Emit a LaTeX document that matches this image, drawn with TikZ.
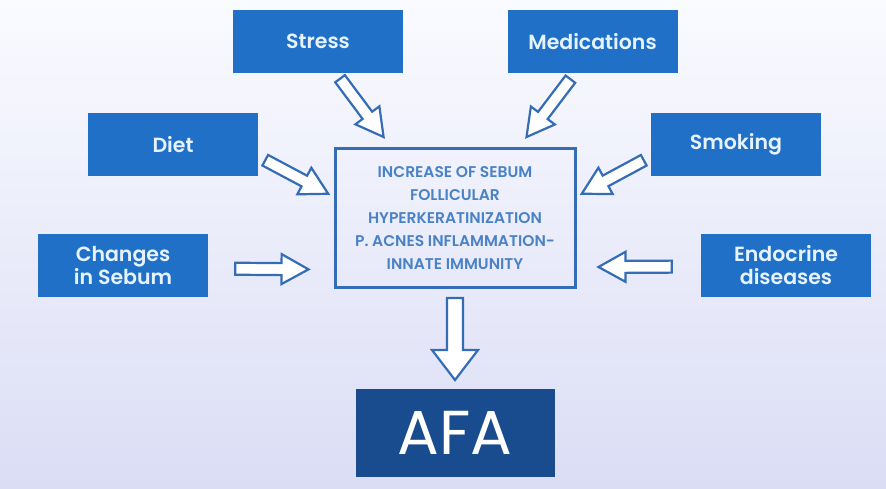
\documentclass[tikz,border=0pt]{standalone}
\usepackage{fontspec}
\setmainfont{Poppins}[BoldFont={Poppins SemiBold}]
\usetikzlibrary{positioning,calc}

\definecolor{boxblue}{RGB}{31,112,198}
\definecolor{navy}{RGB}{24,76,142}
\definecolor{lineblue}{RGB}{52,108,182}
\definecolor{capsblue}{RGB}{74,130,198}
\definecolor{paletop}{RGB}{250,251,255}
\definecolor{palebottom}{RGB}{219,221,245}
\definecolor{softwhite}{RGB}{230,243,255}

\begin{document}
\begin{tikzpicture}[%
		x=1pt,
		y=1pt,
		tail gap/.store in=\tailgap,
		tip gap/.store in=\tipgap,
		shaft half/.store in=\shaftw,
		head half/.store in=\headw,
		head long/.store in=\headl,
		tail gap=8pt, tip gap=8pt, shaft half=6pt, head half=15pt, head long=27pt,
		factor/.style={%
			fill=boxblue,
			text=softwhite,
			minimum width=170pt,
			minimum height=63pt,
			align=center,
			font=\fontsize{20.5pt}{23pt}\selectfont\bfseries
		},
		core/.style={%
			draw=lineblue,
			line width=3pt,
			minimum width=240pt,
			minimum height=139pt,
			align=center,
			text=capsblue,
			font=\fontsize{15.5pt}{23pt}\selectfont\bfseries
		},
		outcome/.style={%
			fill=navy,
			text=white,
			minimum width=199pt,
			minimum height=88pt,
			font=\fontsize{62pt}{64pt}\selectfont
		},
		fat/.style={%
			draw=lineblue,
			fill=white,
			line width=2.2pt,
			line join=miter,
			to path={%
				let \p1=($(\tikztostart)!\tailgap!(\tikztotarget)$),
				    \p2=($(\tikztotarget)!\tipgap!(\tikztostart)$),
				    \n1={atan2(\y2-\y1,\x2-\x1)},
				    \n2={veclen(\x2-\x1,\y2-\y1)} in
				($(\p1)+({\n1+90}:\shaftw)$) -- ++({\n1}:{(\n2)*1pt-\headl})
				-- ++({\n1+90}:{\headw-\shaftw}) -- (\p2)
				-- ($(\p2)+({\n1+180}:\headl)+({\n1-90}:\headw)$)
				-- ++({\n1+90}:{\headw-\shaftw})
				-- ($(\p1)+({\n1-90}:\shaftw)$) -- cycle
			}
		}
		]
		% background
		\shade[top color=paletop, bottom color=palebottom] (0,0) rectangle (886,-488);
		\useasboundingbox (0,0) rectangle (886,-488);
		
		\node[core] (core) at (455,-218) {INCREASE OF SEBUM\\FOLLICULAR\\HYPERKERATINIZATION\\P. ACNES INFLAMMATION-\\INNATE IMMUNITY};
		\node[factor] (stress)    at (318,-41)     {Stress};
		\node[factor] (meds)      at (592.5,-41.5) {Medications};
		\node[factor] (diet)      at (173,-144.5)  {Diet};
		\node[factor] (smoking)   at (736,-144.5)  {Smoking};
		\node[factor] (changes)   at (123,-265.5)  {Changes\\in Sebum};
		\node[factor] (endocrine) at (786,-265)    {Endocrine\\diseases};
		\node[outcome] (afa) [below=100pt of core] {AFA};
		
		\path (stress.299) edge[fat, tail gap=7.5pt, tip gap=12.5pt] (core.132)
		(meds.241) edge[fat, tail gap=7.5pt, tip gap=12.5pt]        (core.48)
		(diet.352) edge[fat, tip gap=6pt]                           (core.170)
		(smoking.188) edge[fat, tip gap=6pt]                        (core.10)
		(changes.358) edge[fat, tail gap=27pt, tip gap=25pt]        (core.203)
		(endocrine.181) edge[fat, tail gap=29pt, tip gap=22pt]      (core.338)
		(core.south) edge[fat, tail gap=9pt, tip gap=9pt,
			shaft half=8pt, head half=23pt, head long=30pt]         (afa.north);
\end{tikzpicture}
\end{document}
